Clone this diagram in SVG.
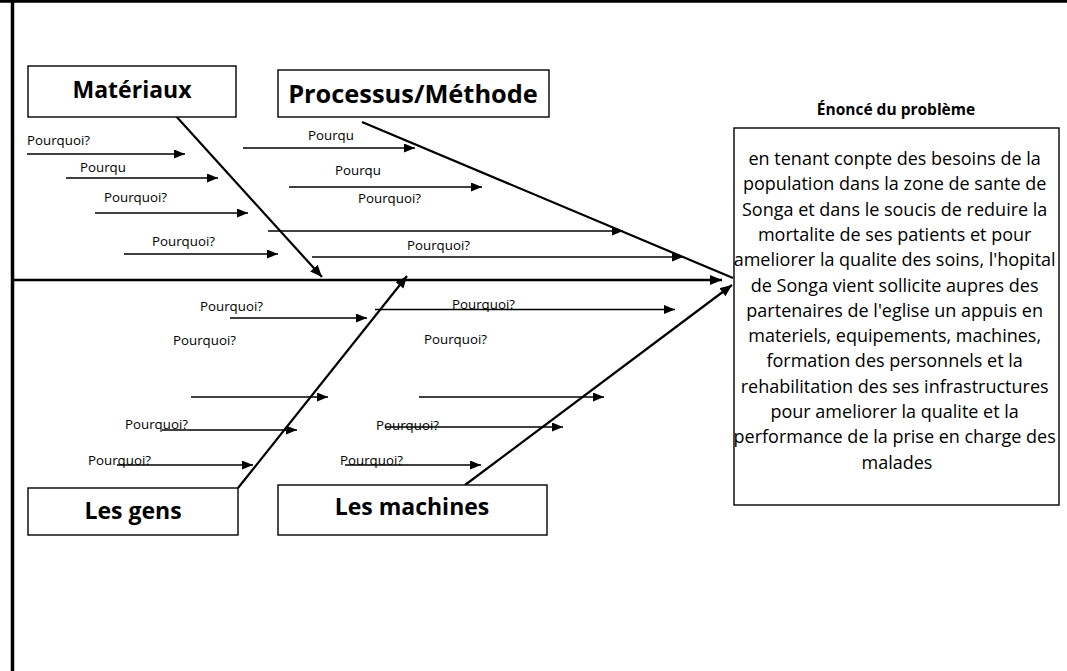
<svg xmlns="http://www.w3.org/2000/svg" width="1067" height="671" viewBox="0 0 1067 671">
<style>
.box{fill:#fff;stroke:#000;stroke-width:1.4}
.cat{font-family:"Open Sans","Liberation Sans",sans-serif;font-weight:bold;font-size:23px;text-anchor:middle}
.q{font-family:"Open Sans","Liberation Sans",sans-serif;font-size:13.3px}
.body{font-family:"Open Sans","Liberation Sans",sans-serif;font-size:18px;text-anchor:middle}
.bone{stroke:#000;stroke-width:2.2;fill:none}
.small{stroke:#000;stroke-width:1.3;fill:none}
</style>
<defs>
<marker id="ah" markerUnits="userSpaceOnUse" markerWidth="14" markerHeight="12" refX="12" refY="5" orient="auto">
<path d="M0,0 L12,5 L0,10 Z" fill="#000"/>
</marker>
<marker id="as" markerUnits="userSpaceOnUse" markerWidth="12" markerHeight="10" refX="11" refY="4.5" orient="auto">
<path d="M0,0 L11,4.5 L0,9 Z" fill="#000"/>
</marker>
</defs>
<rect width="1067" height="671" fill="#fff"/>
<g id="frame">
<line x1="0" y1="1.3" x2="1067" y2="1.3" stroke="#000" stroke-width="2.8"/>
<line x1="12.5" y1="0" x2="12.5" y2="671" stroke="#000" stroke-width="3.5"/>
</g>
<g id="connectors">
<line x1="13" y1="280" x2="722" y2="280" stroke="#000" stroke-width="2.6" marker-end="url(#ah)"/>
<line class="bone" x1="175" y1="115" x2="322" y2="277" marker-end="url(#ah)"/>
<line class="bone" x1="362" y1="122" x2="733" y2="278"/>
<line class="bone" x1="238" y1="488" x2="407" y2="276" marker-end="url(#ah)"/>
<line class="bone" x1="465" y1="485" x2="732" y2="285" marker-end="url(#ah)"/>
<line class="small" x1="27" y1="154" x2="185" y2="154" marker-end="url(#as)"/>
<line class="small" x1="66" y1="178" x2="218" y2="178" marker-end="url(#as)"/>
<line class="small" x1="95" y1="213" x2="248" y2="213" marker-end="url(#as)"/>
<line class="small" x1="124" y1="254" x2="278" y2="254" marker-end="url(#as)"/>
<line class="small" x1="243" y1="148" x2="415" y2="148" marker-end="url(#as)"/>
<line class="small" x1="289" y1="187" x2="482" y2="187" marker-end="url(#as)"/>
<line class="small" x1="268" y1="231" x2="623" y2="231" marker-end="url(#as)"/>
<line class="small" x1="312" y1="257" x2="683" y2="257" marker-end="url(#as)"/>
<line class="small" x1="230" y1="318" x2="367" y2="318" marker-end="url(#as)"/>
<line class="small" x1="191" y1="397" x2="328" y2="397" marker-end="url(#as)"/>
<line class="small" x1="162" y1="430" x2="297" y2="430" marker-end="url(#as)"/>
<line class="small" x1="117" y1="465" x2="253" y2="465" marker-end="url(#as)"/>
<line class="small" x1="375" y1="309.5" x2="675" y2="309.5" marker-end="url(#as)"/>
<line class="small" x1="419" y1="397" x2="604" y2="397" marker-end="url(#as)"/>
<line class="small" x1="385" y1="427" x2="563" y2="427" marker-end="url(#as)"/>
<line class="small" x1="345" y1="465" x2="481" y2="465" marker-end="url(#as)"/>
</g>
<g id="labels">
<text class="q" x="27" y="145">Pourquoi?</text>
<text class="q" x="80" y="172">Pourqu</text>
<text class="q" x="104" y="202">Pourquoi?</text>
<text class="q" x="152" y="246">Pourquoi?</text>
<text class="q" x="308" y="140">Pourqu</text>
<text class="q" x="335" y="175">Pourqu</text>
<text class="q" x="358" y="203">Pourquoi?</text>
<text class="q" x="407" y="250">Pourquoi?</text>
<text class="q" x="200" y="311">Pourquoi?</text>
<text class="q" x="173" y="345">Pourquoi?</text>
<text class="q" x="125" y="429">Pourquoi?</text>
<text class="q" x="88" y="465">Pourquoi?</text>
<text class="q" x="452" y="309">Pourquoi?</text>
<text class="q" x="424" y="344">Pourquoi?</text>
<text class="q" x="376" y="430">Pourquoi?</text>
<text class="q" x="340" y="465">Pourquoi?</text>
</g>
<g id="materiaux">
<rect class="box" x="28" y="66" width="208" height="51"/>
<text class="cat" x="132" y="98">Matériaux</text>
</g>
<g id="processus">
<rect class="box" x="278" y="70" width="271" height="47"/>
<text class="cat" x="413" y="103" style="font-size:25.4px">Processus/Méthode</text>
</g>
<g id="gens">
<rect class="box" x="28" y="488" width="210" height="47"/>
<text class="cat" x="133" y="519">Les gens</text>
</g>
<g id="machines">
<rect class="box" x="278" y="485" width="269" height="50"/>
<text class="cat" x="412" y="515">Les machines</text>
</g>
<g id="probleme">
<text x="896" y="115" font-family="Open Sans, Liberation Sans, sans-serif" font-weight="bold" font-size="15.5" text-anchor="middle">Énoncé du problème</text>
<rect class="box" x="734" y="128" width="325" height="377"/>
<text class="body">
<tspan x="897" y="165">en tenant conpte des besoins de la</tspan>
<tspan x="897" y="190.3">population dans la zone de sante de</tspan>
<tspan x="897" y="215.6">Songa et dans le soucis de reduire la</tspan>
<tspan x="897" y="240.9">mortalite de ses patients et pour</tspan>
<tspan x="897" y="266.2">ameliorer la qualite des soins, l'hopital</tspan>
<tspan x="897" y="291.5">de Songa vient sollicite aupres des</tspan>
<tspan x="897" y="316.8">partenaires de l'eglise un appuis en</tspan>
<tspan x="897" y="342.1">materiels, equipements, machines,</tspan>
<tspan x="897" y="367.4">formation des personnels et la</tspan>
<tspan x="897" y="392.7">rehabilitation des ses infrastructures</tspan>
<tspan x="897" y="418">pour ameliorer la qualite et la</tspan>
<tspan x="897" y="443.3">performance de la prise en charge des</tspan>
<tspan x="897" y="468.6">malades</tspan>
</text>
</g>
</svg>
